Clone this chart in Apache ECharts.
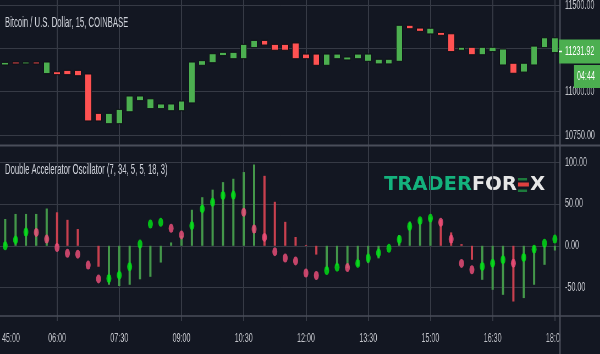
<!DOCTYPE html>
<html>
<head>
<meta charset="utf-8">
<script src="https://cdn.jsdelivr.net/npm/echarts@6/dist/echarts.min.js"></script>
<style>
  html, body { margin: 0; padding: 0; background: #131722; overflow: hidden; }
  /* the screenshot is squeezed sideways, so draw wide and squeeze */
  #chart { width: 1091px; height: 354px; transform: scaleX(0.55); transform-origin: 0 0; }
</style>
</head>
<body>
<div id="chart"></div>
<script>
const S = 0.55;
const cx = (x) => x / S; // screen px -> chart px

const times = [
  "04:45", "05:00", "05:15", "05:30", "05:45", "06:00", "06:15", "06:30", "06:45",
  "07:00", "07:15", "07:30", "07:45", "08:00", "08:15", "08:30", "08:45", "09:00",
  "09:15", "09:30", "09:45", "10:00", "10:15", "10:30", "10:45", "11:00", "11:15",
  "11:30", "11:45", "12:00", "12:15", "12:30", "12:45", "13:00", "13:15", "13:30",
  "13:45", "14:00", "14:15", "14:30", "14:45", "15:00", "15:15", "15:30", "15:45",
  "16:00", "16:15", "16:30", "16:45", "17:00", "17:15", "17:30", "17:45", "18:00",
];
const timeTicks = ["06:00", "07:30", "09:00", "10:30", "12:00", "13:30", "15:00", "16:30", "18:00"];

const opens = [
  11154, 11171, 11160, 11171, 11104, 11115, 11123, 11123, 11102, 10875,
  10815, 10815, 10884, 10948, 10902, 10902, 10890, 10890, 10935, 11152,
  11167, 11208, 11190, 11190, 11254, 11296, 11273, 11273, 11281, 11217,
  11217, 11152, 11190, 11183, 11190, 11175, 11160, 11160, 11175, 11383,
  11367, 11333, 11342, 11334, 11239, 11256, 11213, 11231, 11154, 11164,
  11113, 11154, 11254, 11225,
];
const closes = [
  11169, 11160, 11171, 11160, 11171, 11098, 11098, 11092, 10831, 10831,
  10875, 10898, 10975, 10975, 10959, 10929, 10929, 10946, 11171, 11179,
  11219, 11227, 11227, 11273, 11296, 11269, 11239, 11239, 11190, 11190,
  11152, 11217, 11217, 11200, 11217, 11217, 11187, 11187, 11383, 11363,
  11348, 11366, 11325, 11231, 11256, 11213, 11256, 11256, 11246, 11106,
  11164, 11263, 11311, 11311,
];

// Double Accelerator Oscillator: histogram and dots
const oscHist = [
  32, 38, 38, 38, 44.5, 40, 31, 20, 0, -25,
  -46.5, -48, -46.5, -40, -37, -20, 4, 12, 43, 58,
  67, 76, 80, 88, 97, 83.5, 52.5, 28.6, 10.5, 1,
  -10.5, -28.6, -23.5, -26.6, -24.3, -20.7, -15, 0, 12.8, 29,
  32.5, 34, 31, 16, 2, -16.7, -40.6, -52.5, -58.5, -66.5,
  -62.4, -46.5, -22.7, -5.6,
];
const histUp = [
  1, 1, 1, 1, 1, 0, 0, 0, 0, 0,
  1, 1, 1, 1, 1, 1, 1, 1, 1, 1,
  1, 1, 1, 1, 1, 0, 0, 0, 0, 0,
  0, 1, 1, 1, 1, 1, 1, 1, 1, 1,
  1, 1, 0, 0, 0, 0, 1, 1, 1, 0,
  1, 1, 1, 1,
];
const oscDots = [
  0, 7, 16.5, 16, 8, -2, -9, -10, -23, -39.5,
  -39, -35, -25, 2, 26, 28, 21, 13, 24, 44,
  52, 60, 60.5, 40, 20, 10, -7, -14.5, -18, -32.5,
  -35.5, -29.5, -25.5, -26, -21, -14.5, -8.5, -3, 7.5, 23,
  30, 33, 28, 8, -21, -28.6, -24.7, -20.7, -16.7, -20.7,
  -14, -4, 3, 8,
];
const dotUp = [
  1, 1, 1, 0, 0, 0, 0, 0, 0, 0,
  1, 1, 1, 1, 1, 1, 0, 0, 1, 1,
  1, 1, 1, 0, 0, 0, 0, 0, 0, 0,
  0, 1, 1, 0, 1, 1, 1, 1, 1, 1,
  1, 1, 0, 0, 0, 0, 1, 1, 1, 0,
  1, 1, 1, 1,
];

const lastPrice = "11231.92";
const countdown = "04:44";

const FONT = "'Liberation Sans', Arial, sans-serif";
const GRID = "#363a45";
const LABEL = "#c3c5cb";
const BORDER = "#4a4e5a";
const UP = "#4caf50";
const DOWN = "#ff5252";

const showTick = (idx, val) => timeTicks.indexOf(val) >= 0;

const myChart = echarts.init(document.getElementById("chart"));

myChart.setOption({
  backgroundColor: "#131722",
  animation: false,
  grid: [
    { left: 0, right: cx(40), top: 5, height: 130, outerBoundsMode: "none" },
    { left: 0, right: cx(40), top: 162, height: 125.7, outerBoundsMode: "none" },
    { left: 0, right: cx(40), top: 0, height: 316, outerBoundsMode: "none" },
  ],
  xAxis: [
    { type: "category", gridIndex: 0, data: times, show: false },
    { type: "category", gridIndex: 1, data: times, show: false },
    {
      type: "category",
      gridIndex: 2,
      data: times,
      z: 0,
      axisLine: { show: false },
      axisTick: {
        show: true,
        alignWithLabel: true,
        interval: showTick,
        length: 5,
        lineStyle: { color: GRID, width: 2 },
      },
      axisLabel: {
        interval: showTick,
        color: LABEL,
        fontFamily: FONT,
        fontSize: 13,
        margin: 16,
      },
      splitLine: {
        show: true,
        alignWithLabel: true,
        interval: showTick,
        lineStyle: { color: GRID, width: 2 },
      },
    },
  ],
  yAxis: [
    {
      type: "value",
      gridIndex: 0,
      position: "right",
      min: 10750,
      max: 11500,
      interval: 250,
      axisLine: { show: false },
      axisTick: { show: false },
      axisLabel: {
        color: LABEL,
        fontFamily: FONT,
        fontSize: 13,
        margin: cx(5),
        formatter: (v) => v.toFixed(2),
      },
      splitLine: { lineStyle: { color: GRID, width: 1 } },
    },
    {
      type: "value",
      gridIndex: 1,
      position: "right",
      min: -50,
      max: 100,
      interval: 50,
      axisLine: { show: false },
      axisTick: { show: false },
      axisLabel: {
        color: LABEL,
        fontFamily: FONT,
        fontSize: 13,
        margin: cx(5),
        formatter: (v) => v.toFixed(2),
      },
      splitLine: { lineStyle: { color: GRID, width: 1 } },
    },
    { type: "value", gridIndex: 2, show: false },
  ],
  series: [
    {
      name: "BTCUSD",
      type: "candlestick",
      xAxisIndex: 0,
      yAxisIndex: 0,
      barWidth: 12,
      data: opens.map((o, i) => [o, closes[i], Math.min(o, closes[i]), Math.max(o, closes[i])]),
      itemStyle: {
        color: UP,
        color0: DOWN,
        borderColor: "#0d0f15",
        borderColor0: "#0d0f15",
        borderWidth: 1,
      },
    },
    {
      name: "hist",
      type: "bar",
      xAxisIndex: 1,
      yAxisIndex: 1,
      barWidth: 4,
      clip: false,
      data: oscHist.map((v, i) => ({
        value: v,
        itemStyle: { color: histUp[i] ? "#44974a" : "#c8404f" },
      })),
    },
    {
      name: "dots",
      type: "scatter",
      xAxisIndex: 1,
      yAxisIndex: 1,
      symbol: "circle",
      symbolSize: 9,
      clip: false,
      z: 5,
      data: oscDots.map((v, i) => ({
        value: [i, v],
        itemStyle: { color: dotUp[i] ? "#00e615" : "#f2507c" },
      })),
    },
  ],
  graphic: [
    {
      type: "text",
      z: 100,
      style: {
        text: "Bitcoin / U.S. Dollar, 15, COINBASE",
        x: cx(5), y: 23,
        fill: "#d1d4dc",
        font: "14px " + FONT,
        verticalAlign: "middle",
      },
    },
    {
      type: "text",
      z: 100,
      style: {
        text: "Double Accelerator Oscillator (7, 34, 5, 5, 18, 3)",
        x: cx(5), y: 170,
        fill: "#d1d4dc",
        font: "14px " + FONT,
        verticalAlign: "middle",
      },
    },
    // watermark (not squeezed)
    {
      type: "group",
      x: cx(384),
      y: 185,
      scaleX: 1 / S,
      z: 100,
      children: [
        {
          type: "text",
          style: {
            text: "{g|TRADER}{w|FOR}",
            x: 0, y: 0,
            verticalAlign: "middle",
            rich: {
              g: { fill: "#14b27d", font: "bold 19.5px 'DejaVu Sans'" },
              w: { fill: "#e6e6e6", font: "bold 19.5px 'DejaVu Sans'" },
            },
          },
        },
        { type: "rect", shape: { x: 134, y: -7, width: 9, height: 2.5 }, style: { fill: "#1d7a3c" } },
        { type: "rect", shape: { x: 134, y: 4.5, width: 9, height: 2.5 }, style: { fill: "#1d7a3c" } },
        { type: "rect", shape: { x: 134, y: -2.5, width: 11, height: 4 }, style: { fill: "#e0403f" } },
        {
          type: "text",
          style: {
            text: "X", x: 146, y: 0,
            fill: "#e6e6e6",
            font: "bold 19.5px 'DejaVu Sans'",
            verticalAlign: "middle",
          },
        },
      ],
    },
    // pane separator and time axis line
    { type: "line", z: 100, shape: { x1: 0, y1: 145.5, x2: 1091, y2: 145.5 }, style: { stroke: BORDER, lineWidth: 2 } },
    { type: "line", z: 100, shape: { x1: 0, y1: 316, x2: 1091, y2: 316 }, style: { stroke: BORDER, lineWidth: 1.5 } },
    // price scale background under time axis
    { type: "rect", z: 100, shape: { x: cx(560.5), y: 317, width: 200, height: 40 }, style: { fill: "#131722" } },
    { type: "line", z: 101, shape: { x1: cx(560), y1: 0, x2: cx(560), y2: 354 }, style: { stroke: BORDER, lineWidth: 2.5 } },
    {
      type: "text",
      z: 100,
      style: {
        text: "45:00", x: cx(2), y: 338,
        fill: LABEL, font: "13px " + FONT, verticalAlign: "middle",
      },
    },
    // last price and countdown boxes
    { type: "rect", z: 102, shape: { x: cx(559), y: 39.5, width: 80, height: 24 }, style: { fill: UP } },
    {
      type: "text",
      z: 103,
      style: {
        text: lastPrice, x: cx(565), y: 51.5,
        fill: "#ffffff", font: "13px " + FONT, verticalAlign: "middle",
      },
    },
    { type: "line", z: 103, shape: { x1: cx(559), y1: 51.5, x2: cx(562), y2: 51.5 }, style: { stroke: "#ffffff", lineWidth: 1.5 } },
    { type: "rect", z: 102, shape: { x: cx(574), y: 65, width: 50, height: 23 }, style: { fill: UP } },
    {
      type: "text",
      z: 103,
      style: {
        text: countdown, x: cx(577), y: 76.5,
        fill: "#ffffff", font: "13px " + FONT, verticalAlign: "middle",
      },
    },
  ],
});
</script>
</body>
</html>
